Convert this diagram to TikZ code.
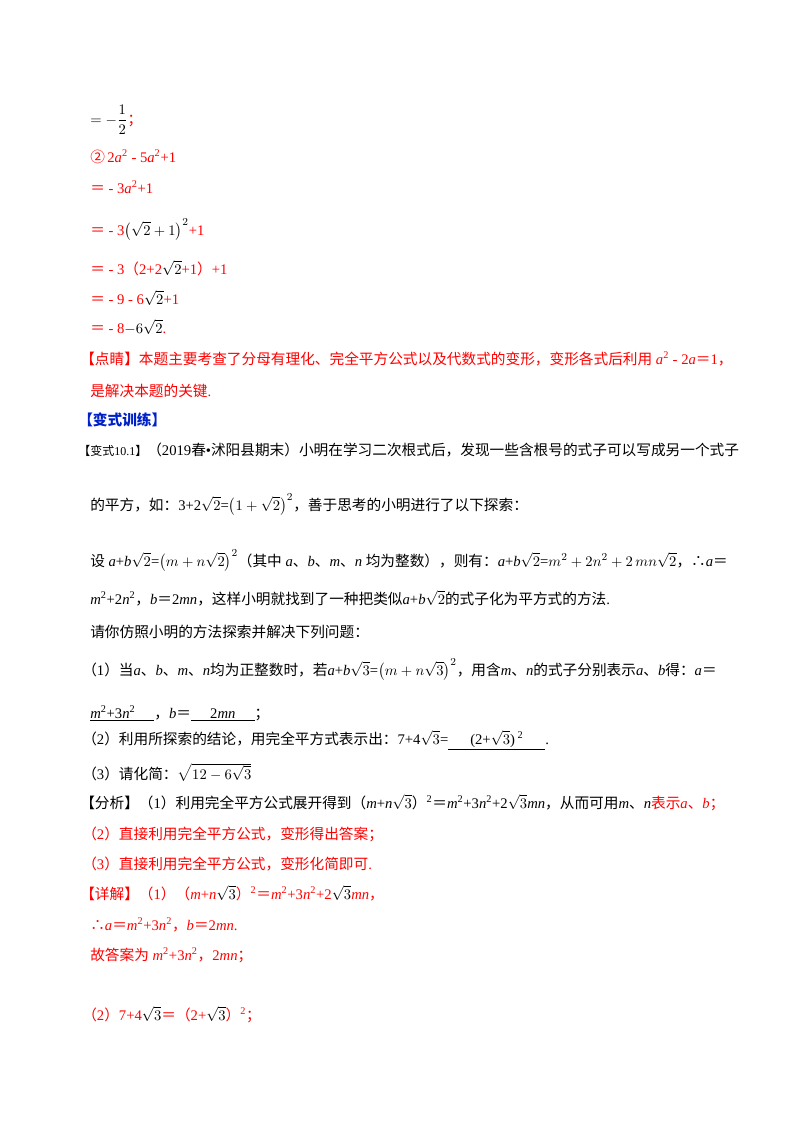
\documentclass[tikz,border=0pt]{standalone}
\usepackage{amsmath}
\usepackage{fontspec}
\setmainfont{Liberation Serif}
\newfontfamily\zhf{Noto Sans CJK SC}
\newcommand\zh[1]{{\zhf #1}}
\newcommand\R[1]{{\color{red}#1}}
\newcommand\I[1]{\textit{#1}}
\newcommand\sq[1]{\textsuperscript{#1}}
\newcommand\ul[1]{\underline{#1}}
\definecolor{red}{RGB}{255,0,0}
\definecolor{hblue}{RGB}{0,32,200}
\begin{document}
\begin{tikzpicture}[x=0.75pt,y=-0.75pt,
  L/.style={anchor=base west,inner sep=0pt,font=\fontsize{11}{13}\selectfont}]
\useasboundingbox (0,0) rectangle (800,1132);
\node[L] (l1) at (90,124) {$=-\dfrac{1}{2}$\R{\zh{；}}};
\node[L] (l2) at (90,162) {\R{\zh{②}\,2\I{a}\sq{2} - 5\I{a}\sq{2}+1}};
\node[L] (l3) at (90,193) {\R{\zh{＝} - 3\I{a}\sq{2}+1}};
\node[L] (l4) at (90,235) {\R{\zh{＝} - 3}$\left(\sqrt{2}+1\right)^{2}$\R{+1}};
\node[L] (l5) at (90,274) {\R{\zh{＝} - 3\zh{（}2+2}$\sqrt{2}$\R{+1\zh{）}+1}};
\node[L] (l6) at (90,304) {\R{\zh{＝} - 9 - 6}$\sqrt{2}$\R{+1}};
\node[L] (l7) at (90,333) {\R{\zh{＝} - 8}$-6\sqrt{2}$\R{.}};
\node[L] (l8) at (80,364) {\R{\zh{【点睛】本题主要考查了分母有理化、完全平方公式以及代数式的变形，变形各式后利用} \I{a}\sq{2} - 2\I{a}\zh{＝}1\zh{，}}};
\node[L] (l9) at (90,396) {\R{\zh{是解决本题的关键}.}};
\node[L] (l10) at (78,425) {\color{hblue}\zh{\bfseries 【变式训练】}};
\node[L] (l11) at (78,455) {{\fontsize{9}{10}\selectfont\zh{【变式}10.1\zh{】}}\zh{（}2019\zh{春}•\zh{沭阳县期末）小明在学习二次根式后，发现一些含根号的式子可以写成另一个式子}};
\node[L] (l12) at (90,510) {\zh{的平方，如：}3+2$\sqrt{2}$=$\left(1+\sqrt{2}\right)^{2}$\zh{，善于思考的小明进行了以下探索：}};
\node[L] (l13) at (90,566) {\zh{设} \I{a}+\I{b}$\sqrt{2}$=$\left(m+n\sqrt{2}\right)^{2}$\zh{（其中} \I{a}\zh{、}\I{b}\zh{、}\I{m}\zh{、}\I{n} \zh{均为整数），则有：}\I{a}+\I{b}$\sqrt{2}$=$m^2+2n^2+2\,mn\sqrt{2}$\zh{，∴}\I{a}\zh{＝}};
\node[L] (l14) at (90,604) {\I{m}\sq{2}+2\I{n}\sq{2}\zh{，}\I{b}\zh{＝}2\I{mn}\zh{，这样小明就找到了一种把类似}\I{a}+\I{b}$\sqrt{2}$\zh{的式子化为平方式的方法}.};
\node[L] (l15) at (90,637) {\zh{请你仿照小明的方法探索并解决下列问题：}};
\node[L] (l16) at (82,675) {\zh{（}1\zh{）当}\I{a}\zh{、}\I{b}\zh{、}\I{m}\zh{、}\I{n}\zh{均为正整数时，若}\I{a}+\I{b}$\sqrt{3}$=$\left(m+n\sqrt{3}\right)^{2}$\zh{，用含}\I{m}\zh{、}\I{n}\zh{的式子分别表示}\I{a}\zh{、}\I{b}\zh{得：}\I{a}\zh{＝}};
\node[L] (l17) at (90,718) {\ul{\I{m}\sq{2}+3\I{n}\sq{2}\hspace{1.3em}}\zh{，}\I{b}\zh{＝}\ul{\hspace{1.3em}2\I{mn}\hspace{1.3em}}\zh{；}};
\node[L] (l18) at (82,744) {\zh{（}2\zh{）利用所探索的结论，用完全平方式表示出：}7+4$\sqrt{3}$=\ul{\hspace{1.5em}(2+$\sqrt{3}$)\,\sq{2}\hspace{1.5em}}.};
\node[L] (l19) at (82,779) {\zh{（}3\zh{）请化简：}$\sqrt{12-6\sqrt{3}}$};
\node[L] (l20) at (80,808) {\zh{【分析】（}1\zh{）利用完全平方公式展开得到（}\I{m}+\I{n}$\sqrt{3}$\zh{）}\sq{2}\zh{＝}\I{m}\sq{2}+3\I{n}\sq{2}+2$\sqrt{3}$\I{mn}\zh{，从而可用}\I{m}\zh{、}\I{n}\R{\zh{表示}\I{a}\zh{、}\I{b}\zh{；}}};
\node[L] (l21) at (82,839) {\R{\zh{（}2\zh{）直接利用完全平方公式，变形得出答案；}}};
\node[L] (l22) at (82,869) {\R{\zh{（}3\zh{）直接利用完全平方公式，变形化简即可}.}};
\node[L] (l23) at (80,899) {\R{\zh{【详解】（}1\zh{）（}\I{m}+\I{n}}$\sqrt{3}$\R{\zh{）}\sq{2}\zh{＝}\I{m}\sq{2}+3\I{n}\sq{2}+2}$\sqrt{3}$\R{\I{mn}\zh{，}}};
\node[L] (l24) at (90,930) {\R{\zh{∴}\I{a}\zh{＝}\I{m}\sq{2}+3\I{n}\sq{2}\zh{，}\I{b}\zh{＝}2\I{mn}.}};
\node[L] (l25) at (90,960) {\R{\zh{故答案为} \I{m}\sq{2}+3\I{n}\sq{2}\zh{，}2\I{mn}\zh{；}}};
\node[L] (l26) at (82,1020) {\R{\zh{（}2\zh{）}7+4}$\sqrt{3}$\R{\zh{＝（}2+}$\sqrt{3}$\R{\zh{）}\sq{2}\zh{；}}};
\end{tikzpicture}
\end{document}
